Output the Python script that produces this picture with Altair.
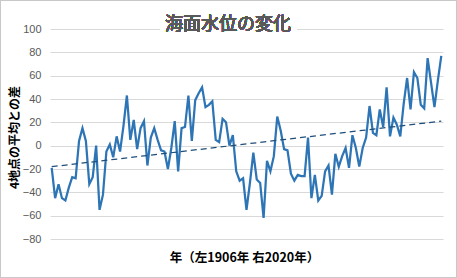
import altair as alt
import pandas as pd

start_year = 1906
end_year = 2020
values = [
    -19, -45, -33, -45, -47, -36, -27, -28, 4, 15,
    4, -33, -27, 0, -55, -42, -5, 1, -10, 8,
    -5, 17, 43, 5, 22, -3, 15, 21, -17, 7,
    15, 5, -4, -5, -20, -2, 21, -22, 15, 16,
    43, 4, 39, 45, 50, 33, 35, 38, 5, 3,
    23, 20, 0, 9, -22, -30, -28, -55, -32, -6,
    -29, -32, -62, -13, -22, -9, 25, 13, -3, -4,
    -24, -30, -25, -26, -26, 7, -45, -25, -47, -43,
    -22, -17, -42, -7, -18, -9, -2, -19, 9, -2,
    -18, -2, 7, 34, 11, 9, 31, 16, 50, 8,
    24, 18, 8, 36, 58, 31, 63, 58, 35, 32,
    75, 54, 33, 56, 77,
]
years = list(range(start_year, start_year + len(values)))
trend_years = [1906, 2020]
trend_values = [-18, 21]
y_ticks = [-80, -60, -40, -20, 0, 20, 40, 60, 80, 100]

df = pd.DataFrame({"year": years, "value": values})
tdf = pd.DataFrame({"year": trend_years, "value": trend_values})

W, H = 393, 210
PL, PT, PR, PB = 50, 29, 14, 39

xscale = alt.Scale(domain=[1905.5, 2020.5], nice=False, zero=False)
yscale = alt.Scale(domain=[-80, 100], nice=False)

xaxis = alt.Axis(labels=False, ticks=False, domain=False, grid=False,
                 title="年（左1906年 右2020年）", titleFontSize=12.5,
                 titleFontWeight="bold", titleColor="#000000",
                 titleFont="Noto Sans CJK JP", titleX=194, titleY=18,
                 titleBaseline="middle", titleAnchor="middle")
yaxis = alt.Axis(values=y_ticks, ticks=False, domain=False, grid=True,
                 gridColor="#d9d9d9", gridWidth=1, labelOverlap=False,
                 labelColor="#595959", labelFontSize=11,
                 labelFont="Liberation Sans", labelPadding=9,
                 title="4地点の平均との差", titleFontSize=12,
                 titleFontWeight="bold", titleColor="#000000",
                 titleFont="Noto Sans CJK JP", titleAngle=-90,
                 titleX=-36, titleY=108, titleBaseline="middle",
                 titleAlign="center")

base_line = alt.Chart(df).mark_line(color="#2E75B6", strokeWidth=2.25, clip=False).encode(
    x=alt.X("year:Q", scale=xscale, axis=xaxis),
    y=alt.Y("value:Q", scale=yscale, axis=yaxis),
)

trend = alt.Chart(tdf).mark_line(color="#1F4E79", strokeWidth=1.25,
                                  strokeDash=[6, 4]).encode(
    x=alt.X("year:Q", scale=xscale, axis=xaxis),
    y=alt.Y("value:Q", scale=yscale, axis=yaxis),
)

title_bg = alt.Chart(df).mark_rect(color="white").encode(
    x=alt.value(110), x2=alt.value(247), y=alt.value(-14), y2=alt.value(6)
)
title_text = alt.Chart(df).mark_text(
    text="海面水位の変化", font="Noto Sans CJK JP", fontSize=18,
    color="#595959", align="center", baseline="middle"
).encode(x=alt.value(178), y=alt.value(-4))

border = alt.Chart(df).mark_rect(fill=None, stroke="#c8c8c8", strokeWidth=1).encode(
    x=alt.value(-PL + 0.5), x2=alt.value(W + PR - 0.5),
    y=alt.value(-PT + 0.5), y2=alt.value(H + PB - 0.5)
)

chart = alt.layer(base_line, title_bg, trend, title_text, border).properties(
    width=W, height=H,
    autosize=alt.AutoSizeParams(type="none"),
    padding={"left": PL, "top": PT, "right": PR, "bottom": PB},
    background="white",
).configure_view(stroke=None)

chart.save("out.html", embed_options={"renderer": "svg", "actions": False})
